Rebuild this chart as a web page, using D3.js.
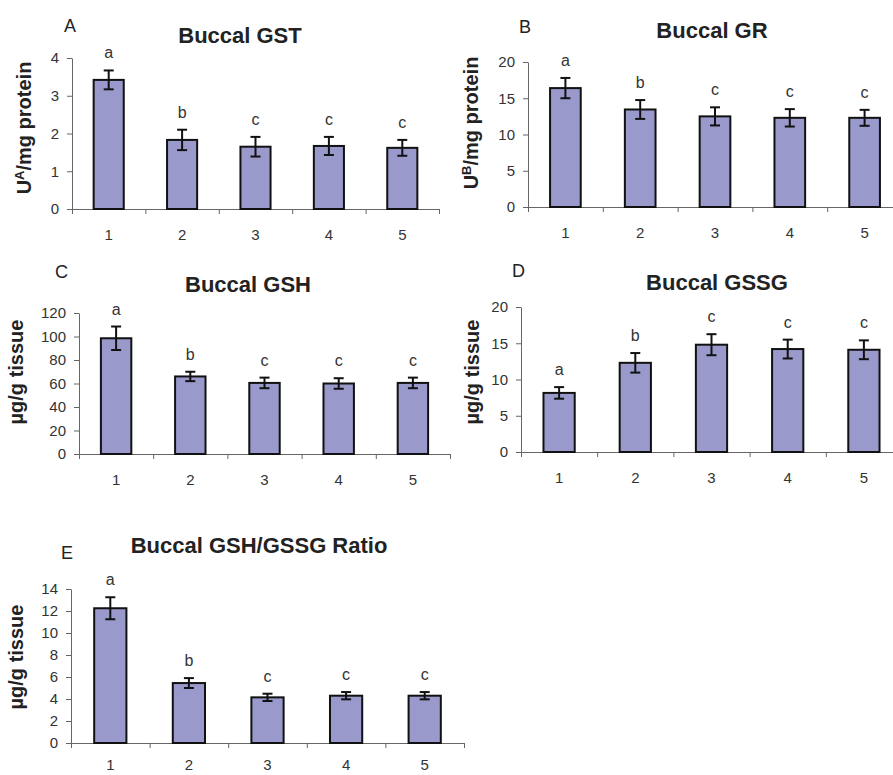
<!DOCTYPE html>
<html>
<head>
<meta charset="utf-8">
<script src="https://cdn.jsdelivr.net/npm/d3@7"></script>
<style>
	body { margin: 0; background: #fff; }
	text { font-family: "Liberation Sans", Arial, sans-serif; }
</style>
</head>
<body>
<script>

// groups on the x axis
var groups = ["1", "2", "3", "4", "5"];

// A - Buccal GST
var gstMean = [3.42, 1.83, 1.65, 1.67, 1.62];
var gstErr = [0.25, 0.27, 0.26, 0.24, 0.21];
var gstLetters = ["a", "b", "c", "c", "c"];

// B - Buccal GR
var grMean = [16.4, 13.45, 12.5, 12.3, 12.3];
var grErr = [1.4, 1.3, 1.25, 1.2, 1.1];
var grLetters = ["a", "b", "c", "c", "c"];

// C - Buccal GSH
var gshMean = [98.5, 66, 60.5, 60, 60.5];
var gshErr = [10, 4, 4.5, 4.5, 4.5];
var gshLetters = ["a", "b", "c", "c", "c"];

// D - Buccal GSSG
var gssgMean = [8.15, 12.3, 14.8, 14.2, 14.1];
var gssgErr = [0.8, 1.35, 1.45, 1.3, 1.3];
var gssgLetters = ["a", "b", "c", "c", "c"];

// E - Buccal GSH/GSSG ratio
var ratioMean = [12.25, 5.45, 4.15, 4.3, 4.3];
var ratioErr = [1.0, 0.45, 0.33, 0.33, 0.33];
var ratioLetters = ["a", "b", "c", "c", "c"];

var barFill = "#9999cc";

var svg = d3.select("body").append("svg")
	.attr("width", 893)
	.attr("height", 775);

function panel(cfg) {
	var g = svg.append("g");

	var x = d3.scaleBand().domain(groups)
		.range([cfg.x0, cfg.x1])
		.paddingInner(0.59)
		.paddingOuter(0.295);
	var xb = d3.scaleLinear().domain([0, groups.length]).range([cfg.x0, cfg.x1]);
	var y = d3.scaleLinear().domain([0, cfg.max]).range([cfg.y0, cfg.yTop]);

	var rows = groups.map((k, i) => ({ k: k, m: cfg.mean[i], e: cfg.err[i], l: cfg.letters[i] }));

	// y axis
	var ya = g.append("g")
		.attr("transform", `translate(${cfg.x0},0)`)
		.call(d3.axisLeft(y)
			.tickValues(d3.range(0, cfg.max + cfg.step / 2, cfg.step))
			.tickFormat(d3.format("d"))
			.tickSize(5).tickSizeOuter(0).tickPadding(8));

	// x axis: ticks at slot boundaries, labels at slot centres
	var xa = g.append("g")
		.attr("transform", `translate(0,${cfg.y0})`)
		.call(d3.axisBottom(xb).ticks(groups.length).tickSize(5).tickSizeOuter(0).tickFormat(""));
	var xl = g.append("g")
		.attr("transform", `translate(0,${cfg.y0})`)
		.call(d3.axisBottom(x).tickSize(0).tickPadding(cfg.lpad || 20));
	xl.select(".domain").remove();

	[ya, xa, xl].forEach(a => {
		a.selectAll("path, line").attr("stroke", "#666").attr("stroke-width", 1);
		a.selectAll("text").attr("fill", "#333").style("font-size", "15px");
	});

	// bars
	g.selectAll("rect.bar")
		.data(rows)
		.join("rect")
		.attr("class", "bar")
		.attr("x", d => x(d.k))
		.attr("y", d => y(d.m))
		.attr("width", x.bandwidth())
		.attr("height", d => y(0) - y(d.m))
		.attr("fill", barFill)
		.attr("stroke", "#111")
		.attr("stroke-width", 2);

	// error bars
	var cx = d => x(d.k) + x.bandwidth() / 2;
	var eb = g.append("g").attr("stroke", "#111").attr("stroke-width", 2);
	eb.selectAll("line.v").data(rows).join("line")
		.attr("class", "v")
		.attr("x1", cx).attr("x2", cx)
		.attr("y1", d => y(d.m - d.e)).attr("y2", d => y(d.m + d.e));
	eb.selectAll("line.t").data(rows).join("line")
		.attr("class", "t")
		.attr("x1", d => cx(d) - 5).attr("x2", d => cx(d) + 5)
		.attr("y1", d => y(d.m + d.e)).attr("y2", d => y(d.m + d.e));
	eb.selectAll("line.b").data(rows).join("line")
		.attr("class", "b")
		.attr("x1", d => cx(d) - 5).attr("x2", d => cx(d) + 5)
		.attr("y1", d => y(d.m - d.e)).attr("y2", d => y(d.m - d.e));

	// significance letters
	g.selectAll("text.sig").data(rows).join("text")
		.attr("class", "sig")
		.attr("x", cx)
		.attr("y", d => y(d.m + d.e) - 12)
		.attr("text-anchor", "middle")
		.attr("fill", "#333")
		.style("font-size", "16px")
		.text(d => d.l);

	// title
	g.append("text")
		.attr("x", cfg.tx).attr("y", cfg.ty)
		.attr("text-anchor", "middle")
		.attr("fill", "#222")
		.style("font-size", "22px")
		.style("font-weight", "bold")
		.text(cfg.title);

	// panel letter
	g.append("text")
		.attr("x", cfg.px).attr("y", cfg.py)
		.attr("fill", "#222")
		.style("font-size", "18px")
		.text(cfg.tag);

	// y label
	var yl = g.append("text")
		.attr("transform", `translate(${cfg.lx},${cfg.ly}) rotate(-90)`)
		.attr("text-anchor", "middle")
		.attr("fill", "#222")
		.style("font-size", "20px")
		.style("font-weight", "bold");
	if (cfg.sup) {
		yl.append("tspan").text("U");
		yl.append("tspan").attr("baseline-shift", "super").style("font-size", "13px").text(cfg.sup);
		yl.append("tspan").text("/mg protein");
	} else {
		yl.text("\u00b5g/g tissue");
	}
}

panel({ mean: gstMean, err: gstErr, letters: gstLetters, max: 4, step: 1,
	x0: 72, x1: 439, y0: 209, yTop: 58,
	title: "Buccal GST", tx: 240, ty: 43, tag: "A", px: 64, py: 32,
	sup: "A", lx: 31, ly: 128 });

panel({ mean: grMean, err: grErr, letters: grLetters, max: 20, step: 5,
	x0: 528, x1: 902, y0: 207, yTop: 62,
	title: "Buccal GR", tx: 712, ty: 38, tag: "B", px: 519, py: 33,
	sup: "B", lx: 478, ly: 123 });

panel({ mean: gshMean, err: gshErr, letters: gshLetters, max: 120, step: 20,
	x0: 79, x1: 450, y0: 454, yTop: 313,
	title: "Buccal GSH", tx: 248, ty: 292, tag: "C", px: 55, py: 278,
	lx: 23, ly: 372 });

panel({ mean: gssgMean, err: gssgErr, letters: gssgLetters, max: 20, step: 5,
	x0: 521, x1: 902, y0: 452, yTop: 307,
	title: "Buccal GSSG", tx: 717, ty: 290, tag: "D", px: 512, py: 277,
	lx: 479, ly: 372 });

panel({ mean: ratioMean, err: ratioErr, letters: ratioLetters, max: 14, step: 2,
	x0: 71, x1: 464, y0: 743, yTop: 589, lpad: 16,
	title: "Buccal GSH/GSSG Ratio", tx: 259, ty: 553, tag: "E", px: 61, py: 559,
	lx: 23, ly: 657 });

</script>
</body>
</html>
